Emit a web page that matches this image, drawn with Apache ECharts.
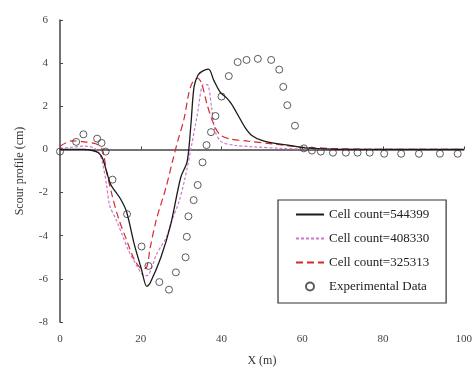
<!DOCTYPE html>
<html><head><meta charset="utf-8">
<script src="https://cdn.jsdelivr.net/npm/echarts@6/dist/echarts.min.js"></script>
<style>html,body{margin:0;padding:0;background:#fff}#c{width:475px;height:372px}</style>
</head><body><div id="c"></div>
<script>
const seriesNames = ['Cell count=544399', 'Cell count=408330', 'Cell count=325313', 'Experimental Data'];
const xTicks = [0, 20, 40, 60, 80, 100];
const yTicks = [-8, -6, -4, -2, 0, 2, 4, 6];

const blackX = [0, 3, 6, 8, 9.5, 10.5, 11.5, 12.5, 13.5, 15, 16.5, 18.4, 20.1, 21.5, 22.3, 25, 27.4, 29.9, 31.5, 32.4, 33.2, 34.2, 35.2, 36.8, 38.1, 39.7, 41.2, 42.5, 44.2, 45.9, 47.5, 50, 53.3, 57.2, 60, 65, 70, 80, 90, 100];
const blackY = [0, 0, 0, -0.05, -0.15, -0.4, -1.0, -1.6, -1.9, -2.3, -2.9, -4.4, -5.5, -6.35, -6.2, -5.0, -3.5, -1.3, -0.55, 1.1, 2.9, 3.45, 3.62, 3.72, 3.2, 2.65, 2.4, 2.1, 1.55, 1.0, 0.65, 0.42, 0.28, 0.18, 0.08, 0.03, 0, 0, 0, 0];

const pinkX = [0, 3, 6, 8, 9.5, 10.5, 11.5, 12.3, 14, 15.5, 17, 18.9, 20.4, 21.5, 22.5, 23.8, 25, 26.3, 27.5, 29.5, 31, 32.5, 34, 35.5, 36.5, 37.5, 38.5, 40, 43, 48, 55, 60, 70, 100];
const pinkY = [0.05, 0.1, 0.15, 0.1, -0.1, -0.6, -1.6, -2.6, -3.3, -4.0, -4.7, -5.35, -5.8, -5.85, -5.6, -4.9, -4.5, -4.1, -3.4, -2.4, -1.3, 0.1, 1.6, 3.0, 3.0, 2.0, 0.8, 0.35, 0.2, 0.12, 0.05, 0.02, 0, 0];

const redX = [0, 3, 6, 9, 10.5, 11.5, 13, 14.5, 16.5, 18.4, 20.5, 21.5, 22.3, 23.8, 26.2, 27.8, 29.1, 30.7, 31.9, 32.8, 34, 35, 36.4, 38, 39.5, 41.8, 46.7, 53, 60, 70, 80, 100];
const redY = [0.15, 0.4, 0.35, 0.25, 0, -1.0, -2.2, -3.2, -4.2, -5.1, -5.55, -5.45, -4.6, -3.3, -1.8, -0.6, 0.35, 1.4, 2.6, 3.1, 3.3, 3.1, 2.1, 1.2, 0.7, 0.5, 0.38, 0.25, 0.1, 0.03, 0, 0];

const expX = [0, 4, 5.8, 9.2, 10.3, 11.3, 13, 16.6, 20.2, 21.9, 24.6, 27, 28.7, 31.1, 31.4, 31.8, 33.1, 34.1, 35.3, 36.3, 37.4, 38.5, 40, 41.8, 44, 46.2, 49, 52.3, 54.3, 55.3, 56.3, 58.2, 60.4, 62.4, 64.6, 67.6, 70.8, 73.7, 76.7, 80.3, 84.5, 88.9, 94.1, 98.5];
const expY = [-0.1, 0.35, 0.7, 0.5, 0.3, -0.1, -1.4, -3.0, -4.5, -5.4, -6.15, -6.5, -5.7, -5.0, -4.05, -3.1, -2.35, -1.65, -0.6, 0.2, 0.8, 1.55, 2.45, 3.4, 4.05, 4.15, 4.2, 4.15, 3.7, 2.9, 2.05, 1.1, 0.05, -0.05, -0.1, -0.15, -0.15, -0.15, -0.15, -0.2, -0.2, -0.2, -0.2, -0.2];

const zip = (xs, ys) => xs.map((x, i) => [x, ys[i]]);
const font = 'Liberation Serif';
const chart = echarts.init(document.getElementById('c'), null, {renderer: 'canvas'});
chart.setOption({
  animation: false,
  backgroundColor: '#fff',
  textStyle: {fontFamily: font},
  grid: {left: 60, right: 8, top: 20, bottom: 50},
  xAxis: {
    type: 'value', min: xTicks[0], max: xTicks[xTicks.length - 1], interval: 20,
    name: 'X (m)', nameLocation: 'middle', nameGap: 33,
    nameTextStyle: {fontFamily: font, fontSize: 12, color: '#333'},
    axisLine: {lineStyle: {color: '#444', width: 1.5}},
    axisTick: {inside: true, length: 3, lineStyle: {color: '#444'}},
    axisLabel: {fontFamily: font, fontSize: 11, color: '#444', margin: 12},
    splitLine: {show: false}
  },
  yAxis: {
    type: 'value', min: yTicks[0], max: yTicks[yTicks.length - 1], interval: 2,
    name: 'Scour profile (cm)', nameLocation: 'middle', nameGap: 34,
    nameTextStyle: {fontFamily: font, fontSize: 12, color: '#333'},
    axisLine: {show: true, lineStyle: {color: '#444', width: 1.5}},
    axisTick: {show: true, inside: true, length: 3, lineStyle: {color: '#444'}},
    axisLabel: {fontFamily: font, fontSize: 11, color: '#444', margin: 12},
    splitLine: {show: false}
  },
  legend: {
    orient: 'vertical', left: 278, top: 200,
    padding: [7, 17, 9, 17], itemGap: 9, itemWidth: 28, itemHeight: 8,
    borderColor: '#333', borderWidth: 1.2, backgroundColor: '#fff',
    textStyle: {fontFamily: font, fontSize: 13, color: '#222', lineHeight: 15},
    data: [
      {name: seriesNames[0], itemStyle: {opacity: 0}},
      {name: seriesNames[1], itemStyle: {opacity: 0}},
      {name: seriesNames[2], itemStyle: {opacity: 0}},
      {name: seriesNames[3]}
    ]
  },
  series: [
    {name: seriesNames[0], type: 'line', data: zip(blackX, blackY), symbol: 'none', smooth: 0.3,
     lineStyle: {color: '#1a1a1a', width: 1.3}, itemStyle: {color: '#1a1a1a'}, z: 4},
    {name: seriesNames[1], type: 'line', data: zip(pinkX, pinkY), symbol: 'none', smooth: 0.3,
     lineStyle: {color: '#cc77cc', width: 1.2, type: [3, 2]}, itemStyle: {color: '#cc77cc'}, z: 3},
    {name: seriesNames[2], type: 'line', data: zip(redX, redY), symbol: 'none', smooth: 0.3,
     lineStyle: {color: '#d42a2a', width: 1.2, type: [7, 4]}, itemStyle: {color: '#d42a2a'}, z: 3},
    {name: seriesNames[3], type: 'scatter', data: zip(expX, expY), symbol: 'circle', symbolSize: 7,
     itemStyle: {color: 'rgba(255,255,255,0)', borderColor: '#333', borderWidth: 1}, z: 5}
  ]
});
</script></body></html>
